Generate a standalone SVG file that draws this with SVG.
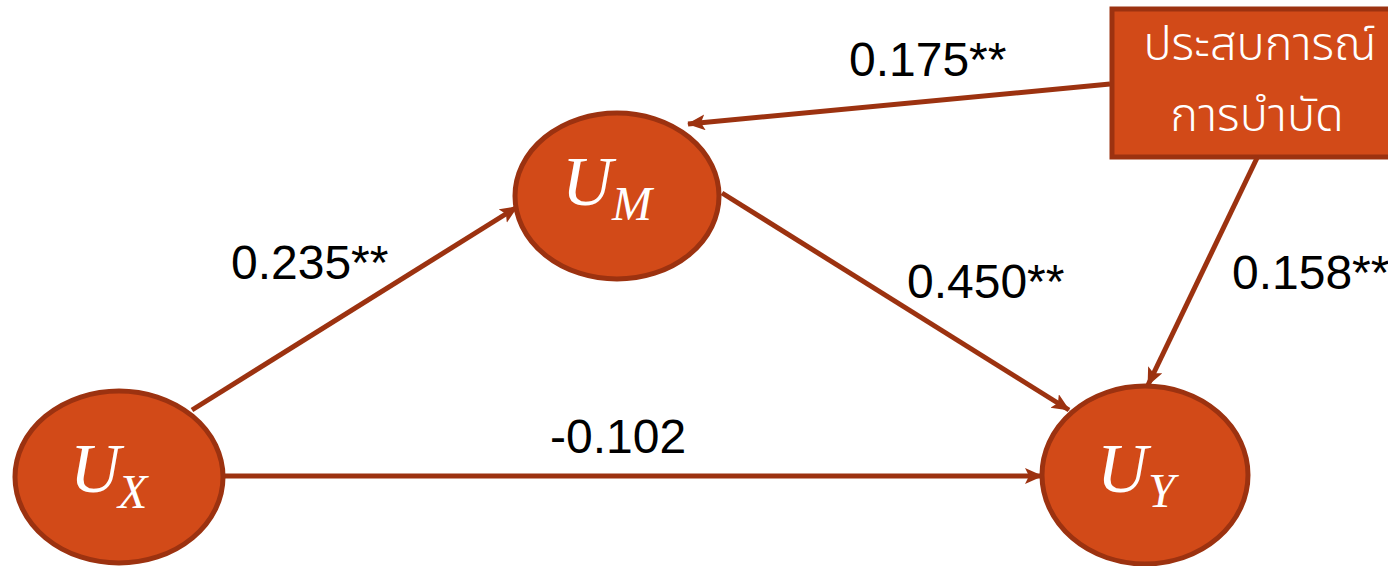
<svg xmlns="http://www.w3.org/2000/svg" width="1388" height="566" viewBox="0 0 1388 566">
<style>
.node{fill:#D24A18;stroke:#9C3210;stroke-width:5}
.edge{stroke:#9C3210;stroke-width:5;fill:none;marker-end:url(#ah)}
.lbl{font-family:"Liberation Sans",Arial,sans-serif;font-size:48px;fill:#000}
.math{font-family:"Liberation Serif","Times New Roman",serif;font-style:italic;fill:#fff}
.thai{font-family:"Noto Sans Thai","Noto Sans","DejaVu Sans",sans-serif;font-size:47px;font-weight:300;fill:#fff;text-anchor:middle}
</style>
<defs>
<marker id="ah" markerUnits="userSpaceOnUse" markerWidth="20" markerHeight="18" refX="17" refY="8" orient="auto">
<path d="M0,0 L18,8 L0,16 L4,8 Z" fill="#9C3210"/>
</marker>
</defs>
<rect width="1388" height="566" fill="#fff"/>
<g id="connectors">
<line class="edge" x1="192" y1="410" x2="517" y2="207"/>
<line class="edge" x1="722" y1="193" x2="1069" y2="410"/>
<line class="edge" x1="222" y1="476" x2="1042" y2="476"/>
<line class="edge" x1="1110" y1="84" x2="688" y2="124"/>
<line class="edge" x1="1257" y1="158" x2="1148" y2="385"/>
</g>
<g id="labels">
<text class="lbl" x="849" y="76">0.175**</text>
<text class="lbl" x="231" y="279">0.235**</text>
<text class="lbl" x="907" y="298">0.450**</text>
<text class="lbl" x="1232" y="289">0.158**</text>
<text class="lbl" x="550" y="453">-0.102</text>
</g>
<g id="node-UM">
<ellipse class="node" cx="617" cy="196" rx="102" ry="83"/>
<text class="math" x="562" y="205" font-size="70">U</text>
<text class="math" x="612" y="220" font-size="48">M</text>
</g>
<g id="node-UX">
<ellipse class="node" cx="119" cy="477" rx="104" ry="86"/>
<text class="math" x="70" y="492" font-size="70">U</text>
<text class="math" x="118" y="508" font-size="48">X</text>
</g>
<g id="node-UY">
<ellipse class="node" cx="1145" cy="475" rx="103" ry="89"/>
<text class="math" x="1097" y="492" font-size="70">U</text>
<text class="math" x="1148" y="507" font-size="48">Y</text>
</g>
<g id="node-therapy">
<rect class="node" x="1112" y="9" width="300" height="148"/>
<text class="thai" x="1260" y="60">ประสบการณ์</text>
<text class="thai" x="1257" y="131">การบำบัด</text>
</g>
</svg>
